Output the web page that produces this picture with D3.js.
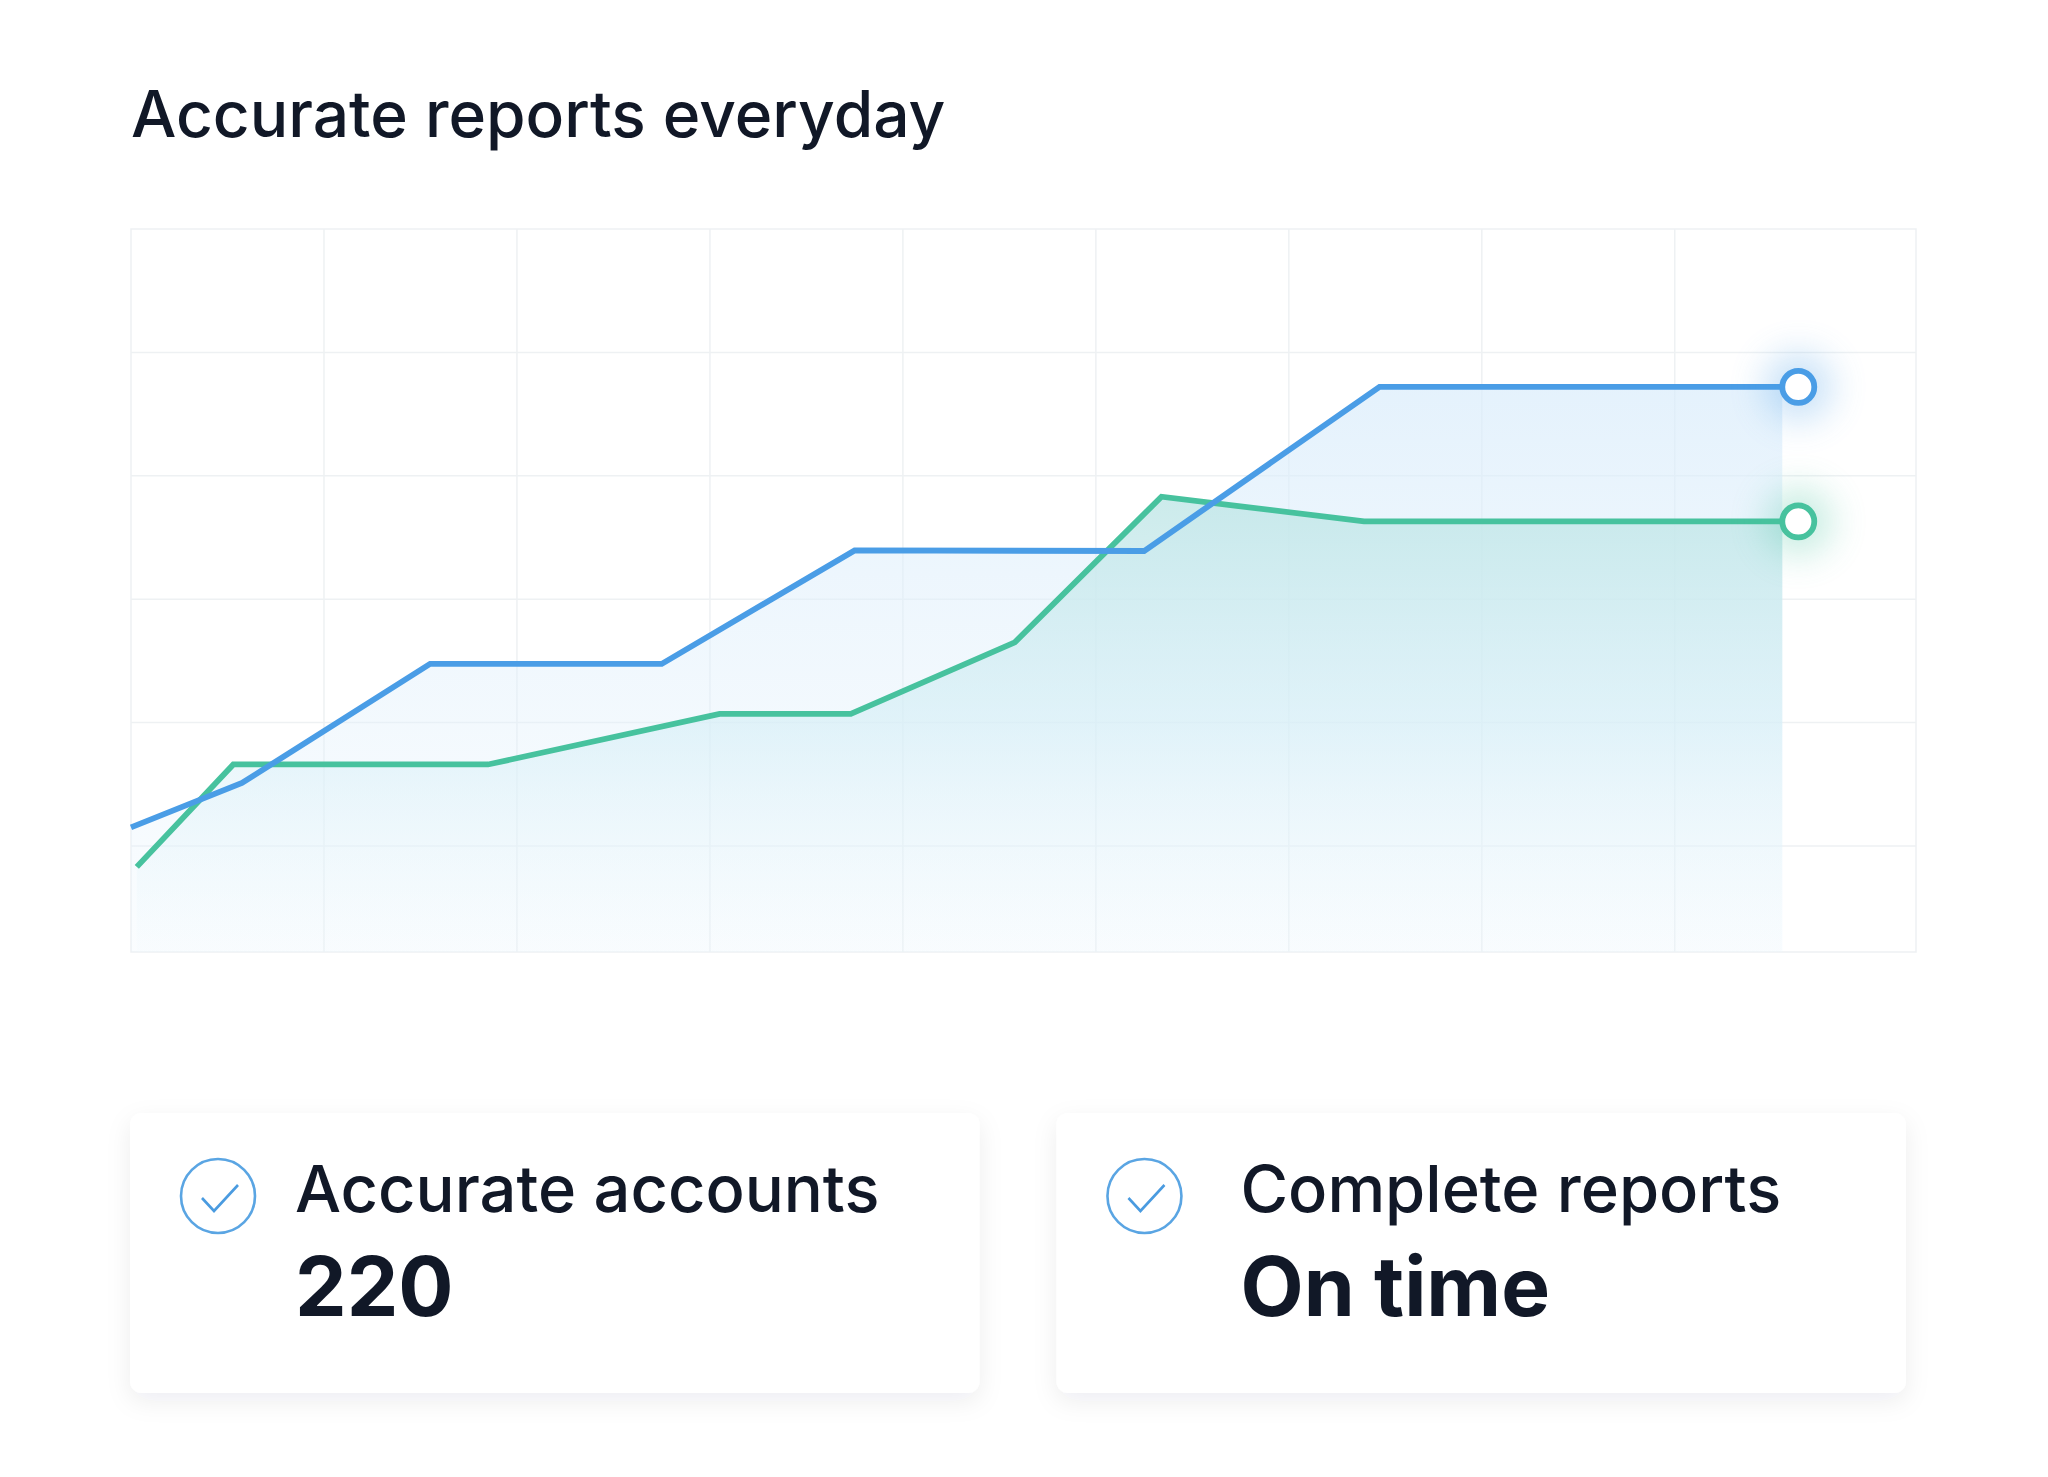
<!DOCTYPE html>
<html>
<head>
<meta charset="utf-8">
<script src="https://cdn.jsdelivr.net/npm/d3@7"></script>
<style>
  html, body { margin: 0; background: #fff; }
  svg { display: block; font-family: Inter, "Noto Sans", sans-serif; }
</style>
</head>
<body>
<svg id="chart" width="2048" height="1477"></svg>
<script>
// data
const title = "Accurate reports everyday";
const gridX = [10, 20, 30, 40, 50, 60, 70, 80];
const gridY = [10, 20, 30, 40, 50];
const accountsX = [0, 5.75, 15.5, 27.5, 37.5, 52.5, 64.7, 86.4];
const accountsY = [11.5, 15.1, 24.75, 24.75, 33.95, 33.9, 47.2, 47.2];
const reportsX = [0.3, 5.3, 18.5, 30.5, 37.3, 45.8, 53.4, 63.9, 86.4];
const reportsY = [8.3, 16.6, 16.6, 20.7, 20.7, 26.5, 38.3, 36.3, 36.3];
const cardLabels = ["Accurate accounts", "Complete reports"];
const cardValues = ["220", "On time"];

const blue = "#4a9de6";
const green = "#47c29e";
const ink = "#111827";

const svg = d3.select("#chart");
const defs = svg.append("defs");

const x = d3.scaleLinear().domain([0, 92.5]).range([131, 1916]);
const y = d3.scaleLinear().domain([1.4, 60]).range([952, 229]);

const accounts = accountsX.map((v, i) => ({ x: v, y: accountsY[i] }));
const reports = reportsX.map((v, i) => ({ x: v, y: reportsY[i] }));

// title
svg.append("text")
    .attr("x", 131)
    .attr("y", 137)
    .attr("font-size", 64)
    .attr("font-weight", 500)
    .attr("fill", ink)
    .text(title);

// grid
const grid = svg.append("g").attr("class", "grid")
    .attr("stroke", "#eef1f3")
    .attr("stroke-width", 1.5);

grid.append("rect")
    .attr("x", x(0)).attr("y", y(60))
    .attr("width", x(92.5) - x(0))
    .attr("height", y(1.4) - y(60))
    .attr("fill", "none");

grid.selectAll("line.gx").data(gridX).enter().append("line")
    .attr("class", "gx")
    .attr("x1", d => x(d)).attr("x2", d => x(d))
    .attr("y1", y(60)).attr("y2", y(1.4));

grid.selectAll("line.gy").data(gridY).enter().append("line")
    .attr("class", "gy")
    .attr("x1", x(0)).attr("x2", x(92.5))
    .attr("y1", d => y(d)).attr("y2", d => y(d));

// gradients
const gBlue = defs.append("linearGradient")
    .attr("id", "fillBlue").attr("gradientUnits", "userSpaceOnUse")
    .attr("x1", 0).attr("x2", 0).attr("y1", y(47.2)).attr("y2", y(1.4));
gBlue.append("stop").attr("offset", 0).attr("stop-color", "#d9ecfb").attr("stop-opacity", 0.7);
gBlue.append("stop").attr("offset", 1).attr("stop-color", "#e6f3fc").attr("stop-opacity", 0.2);

const gGreen = defs.append("linearGradient")
    .attr("id", "fillGreen").attr("gradientUnits", "userSpaceOnUse")
    .attr("x1", 0).attr("x2", 0).attr("y1", y(38.3)).attr("y2", y(1.4));
gGreen.append("stop").attr("offset", 0).attr("stop-color", "#bfe6e6").attr("stop-opacity", 0.8);
gGreen.append("stop").attr("offset", 0.5).attr("stop-color", "#d4eef6").attr("stop-opacity", 0.6);
gGreen.append("stop").attr("offset", 1).attr("stop-color", "#eef8fd").attr("stop-opacity", 0.15);

const r = 16;
defs.append("clipPath").attr("id", "areaClip")
    .append("rect")
    .attr("x", x(0)).attr("y", y(60))
    .attr("width", x(86.4) - x(0) - r)
    .attr("height", y(1.4) - y(60));

const area = d3.area()
    .x(d => x(d.x))
    .y0(y(1.4))
    .y1(d => y(d.y));

const areas = svg.append("g").attr("clip-path", "url(#areaClip)");
areas.append("path").datum(accounts).attr("d", area).attr("fill", "url(#fillBlue)");
areas.append("path").datum(reports).attr("d", area).attr("fill", "url(#fillGreen)");

// glow for end points
const glow = defs.append("filter").attr("id", "glow")
    .attr("x", "-200%").attr("y", "-200%").attr("width", "500%").attr("height", "500%");
glow.append("feGaussianBlur").attr("stdDeviation", 18);

// lines
const line = d3.line().x(d => x(d.x)).y(d => y(d.y));

[[reports, green], [accounts, blue]].forEach(([data, color]) => {
    svg.append("path")
        .datum(data)
        .attr("d", line)
        .attr("fill", "none")
        .attr("stroke", color)
        .attr("stroke-width", 5.8)
        .attr("stroke-linejoin", "miter");
});

[[accounts, blue], [reports, green]].forEach(([data, color]) => {
    const last = data[data.length - 1];
    svg.append("circle")
        .attr("cx", x(last.x)).attr("cy", y(last.y))
        .attr("r", 34)
        .attr("fill", color)
        .attr("opacity", 0.3)
        .attr("filter", "url(#glow)");
    svg.append("circle")
        .attr("cx", x(last.x)).attr("cy", y(last.y))
        .attr("r", r)
        .attr("fill", "#fff")
        .attr("stroke", color)
        .attr("stroke-width", 5.8);
});

// cards
const shadow = defs.append("filter").attr("id", "cardShadow")
    .attr("x", "-10%").attr("y", "-20%").attr("width", "120%").attr("height", "150%");
shadow.append("feDropShadow")
    .attr("dx", 0).attr("dy", 8)
    .attr("stdDeviation", 12)
    .attr("flood-color", "#1e293b")
    .attr("flood-opacity", 0.07);

const cx = d3.scaleBand().domain(d3.range(cardLabels.length)).range([130, 1906]).paddingInner(0.083);
const cardTop = 1113, cardH = 280;
const textDx = [165, 184];

const cards = svg.selectAll("g.card")
    .data(cardLabels)
    .enter()
    .append("g")
    .attr("class", "card")
    .attr("transform", (_, i) => `translate(${cx(i)},${cardTop})`);

cards.append("rect")
    .attr("width", cx.bandwidth())
    .attr("height", cardH)
    .attr("rx", 12)
    .attr("fill", "#fff")
    .attr("filter", "url(#cardShadow)");

cards.append("circle")
    .attr("cx", 88).attr("cy", 83)
    .attr("r", 37)
    .attr("fill", "none")
    .attr("stroke", "#5aa5e3")
    .attr("stroke-width", 2.6);

cards.append("path")
    .attr("transform", "translate(88,83)")
    .attr("d", "M-16,2L-4,15L20,-11")
    .attr("fill", "none")
    .attr("stroke", "#4a9be0")
    .attr("stroke-width", 2.6);

cards.append("text")
    .attr("x", (_, i) => textDx[i])
    .attr("y", 99)
    .attr("font-size", 65)
    .attr("font-weight", 500)
    .attr("fill", ink)
    .text(d => d);

cards.append("text")
    .attr("x", (_, i) => textDx[i])
    .attr("y", 203)
    .attr("font-size", 82)
    .attr("font-weight", 700)
    .attr("fill", ink)
    .text((_, i) => cardValues[i]);
</script>
</body>
</html>
